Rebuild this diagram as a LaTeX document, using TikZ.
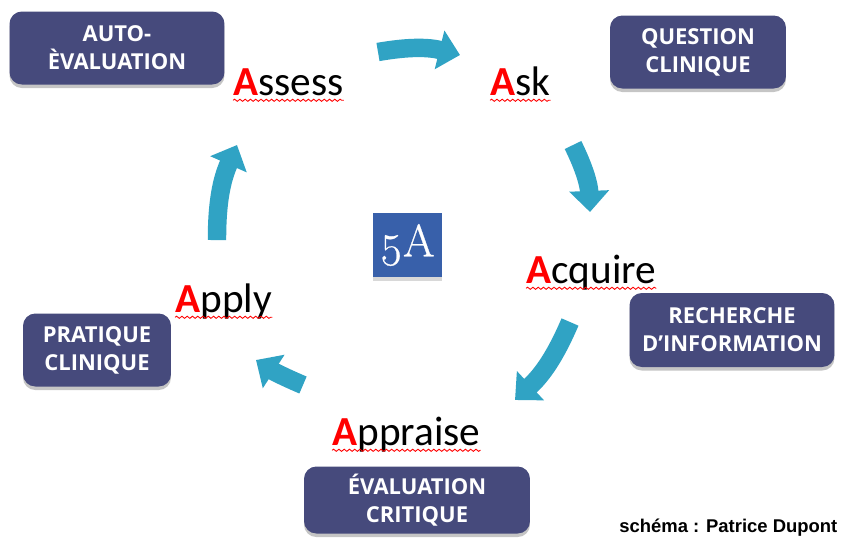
\documentclass[tikz,border=0pt]{standalone}
\usepackage{fontspec}
\setmainfont{Carlito}
\newfontfamily\boxfont{Open Sans}
\newfontfamily\creditfont{Liberation Sans}
\newfontfamily\fiveafont[Numbers=OldStyle, FakeBold=0.6]{Latin Modern Roman}
\usetikzlibrary{arrows.meta,shadows,decorations.pathmorphing}
\definecolor{navy}{RGB}{70,74,124}
\definecolor{arrowblue}{RGB}{48,163,196}
\definecolor{blue5a}{RGB}{56,96,170}
\tikzset{
  stage/.style={fill=navy, rounded corners=7pt, text=white, align=center,
    font=\boxfont\bfseries\fontsize{12.5}{16}\selectfont, inner sep=0pt,
    drop shadow={shadow xshift=0pt, shadow yshift=-2pt, opacity=0.45}},
  word/.style={anchor=base west, inner sep=0pt, font=\fontsize{23.5}{28}\selectfont},
  turn/.style={line width=10.5pt, color=arrowblue, -{Triangle[width=22pt,length=12pt]}},
  squiggle/.style={red, line width=0.5pt, decorate,
    decoration={snake, amplitude=0.6pt, segment length=3pt}}
}
\newcommand{\redA}{{\bfseries\color{red}A}}

\begin{document}
\begin{tikzpicture}[x=0.02cm, y=-0.02cm]
                    \useasboundingbox (0,0) rectangle (848,556);
                    \fill[white] (0,0) rectangle (848,556);
                    \node[stage, minimum width=4.3cm, minimum height=1.46cm] (autoeval) at (117,48) {AUTO-\\ÈVALUATION};
                    \node[stage, minimum width=3.52cm, minimum height=1.46cm] (question) at (698,52) {QUESTION\\CLINIQUE};
                    \node[stage, minimum width=4.1cm, minimum height=1.48cm] (recherche) at (732,330) {RECHERCHE\\D’INFORMATION};
                    \node[stage, minimum width=4.52cm, minimum height=1.34cm] (critique) at (417,500) {ÉVALUATION\\CRITIQUE};
                    \node[stage, minimum width=2.96cm, minimum height=1.46cm] (pratique) at (97,350) {PRATIQUE\\CLINIQUE};
                    \node[fill=blue5a, minimum width=1.38cm, minimum height=1.28cm, text=white,
                          font=\fiveafont\fontsize{26}{28}\selectfont,
                          drop shadow={shadow xshift=0pt, shadow yshift=-2pt, opacity=0.3}] (fivea) at (407,245) {5A};
                    \node[word] (assess) at (233,95) {\redA ssess};
                    \node[word] (ask) at (490,95) {\redA sk};
                    \node[word] (acquire) at (526,283) {\redA cquire};
                    \node[word] (appraise) at (332,445) {\redA ppraise};
                    \node[word] (apply) at (175,312) {\redA pply};
                    \foreach \w in {assess,ask,acquire,appraise,apply}
                        \draw[squiggle] ([yshift=-3pt]\w.base west) -- ([yshift=-3pt]\w.base east);
                    \coordinate (t1) at (378,52);  \coordinate (h1) at (460,55);
                    \coordinate (t2) at (573,145); \coordinate (h2) at (590,212);
                    \coordinate (t3) at (570,322); \coordinate (h3) at (515,400);
                    \coordinate (t4) at (303,385); \coordinate (h4) at (256,360);
                    \coordinate (t5) at (217,240); \coordinate (h5) at (237,145);
                    \draw[turn] (t1) to[bend left=12] (h1);
                    \draw[turn] (t2) to[bend left=12] (h2);
                    \draw[turn] (t3) to[bend left=12] (h3);
                    \draw[turn] (t4) to[bend left=5] (h4);
                    \draw[turn] (t5) to[bend left=12] (h5);
                    \node[anchor=base west, inner sep=0pt, font=\creditfont\bfseries\fontsize{10.5}{12}\selectfont] (credit) at (619,532) {schéma : Patrice Dupont};
                \end{tikzpicture}
\end{document}
